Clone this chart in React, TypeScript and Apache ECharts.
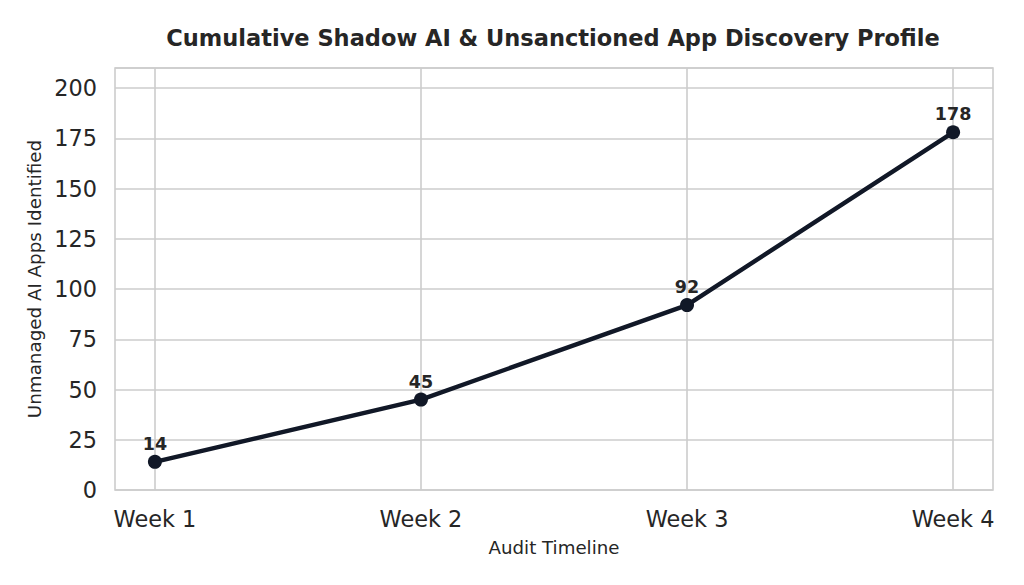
import React, { useEffect, useRef } from "react";
import * as echarts from "echarts";

const categories = ["Week 1", "Week 2", "Week 3", "Week 4"];
const values = [14, 45, 92, 178];
const yTicks = [0, 25, 50, 75, 100, 125, 150, 175, 200];

const FONT = "DejaVu Sans";

export default function App() {
  const ref = useRef<HTMLDivElement>(null);
  useEffect(() => {
    if (!ref.current) return;
    const chart = echarts.init(ref.current, undefined, { renderer: "svg" });
    const data = values.map((v, i) => [i, v]);
    chart.setOption({
      animation: false,
      textStyle: { fontFamily: FONT },
      title: {
        text: "Cumulative Shadow AI & Unsanctioned App Discovery Profile",
        left: 548,
        top: 21,
        textAlign: "center",
        textStyle: { fontFamily: FONT, fontSize: 22.5, fontWeight: "bold", color: "#262626" },
      },
      grid: {
        left: 115,
        right: 31,
        top: 68,
        bottom: 95,
        show: true,
        borderColor: "#cccccc",
        borderWidth: 1.6,
        backgroundColor: "transparent",
      },
      xAxis: {
        type: "value",
        min: -0.15,
        max: 3.15,
        axisLine: { show: false },
        axisTick: { show: false },
        splitLine: { show: false },
        axisLabel: {
          customValues: [0, 1, 2, 3],
          formatter: (v: number) => categories[Math.round(v)] ?? "",
          fontSize: 22.4,
          color: "#262626",
          margin: 18,
          fontFamily: FONT,
        },
        name: "Audit Timeline",
        nameLocation: "middle",
        nameGap: 48,
        nameTextStyle: { fontSize: 18.2, color: "#262626", fontFamily: FONT },
      },
      yAxis: {
        type: "value",
        min: 0,
        max: 210,
        interval: 25,
        axisLine: { show: false },
        axisTick: { show: false },
        splitLine: { show: true, lineStyle: { color: "#cccccc", width: 1.6 } },
        axisLabel: {
          showMaxLabel: false,
          formatter: (v: number) => (yTicks.includes(v) ? String(v) : ""),
          fontSize: 22.4,
          color: "#262626",
          margin: 18,
          fontFamily: FONT,
        },
        name: "Unmanaged AI Apps Identified",
        nameLocation: "middle",
        nameGap: 72,
        nameTextStyle: { fontSize: 18.3, color: "#262626", fontFamily: FONT },
      },
      series: [
        {
          type: "line",
          data,
          symbol: "circle",
          symbolSize: 14,
          lineStyle: { color: "#111827", width: 4.4 },
          itemStyle: { color: "#111827" },
          label: {
            show: true,
            position: "top",
            distance: 2,
            formatter: (p: any) => String(p.value[1]),
            fontSize: 17.5,
            fontWeight: "bold",
            color: "#262626",
            fontFamily: FONT,
          },
          markLine: {
            silent: true,
            symbol: ["none", "none"],
            label: { show: false },
            lineStyle: { color: "#cccccc", width: 1.6, type: "solid" },
            z: 0,
            data: categories.map((_, i) => ({ xAxis: i })),
          },
          z: 5,
        },
      ],
    });
    return () => chart.dispose();
  }, []);
  return <div ref={ref} style={{ width: 1024, height: 585, margin: -8 }} />;
}
